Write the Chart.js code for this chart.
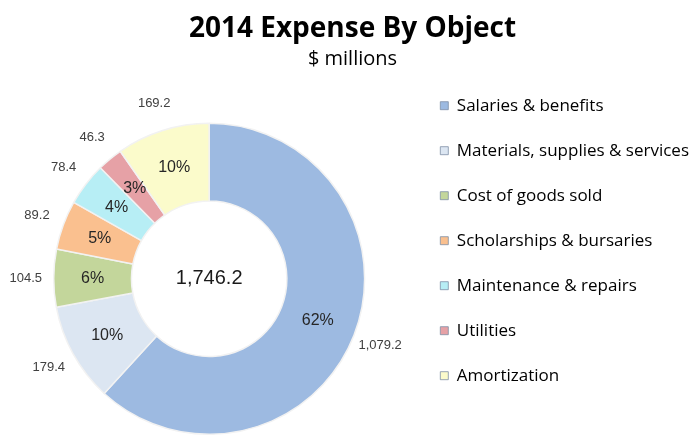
<!DOCTYPE html>
<html>
<head>
<meta charset="utf-8">
<script src="https://cdn.jsdelivr.net/npm/chart.js@4"></script>
<style>
  html, body { margin: 0; padding: 0; background: #ffffff; }
  #wrap { width: 692px; height: 437px; position: relative; }
</style>
</head>
<body>
<div id="wrap"><canvas id="c" width="692" height="437"></canvas></div>
<script>
const categories = [
  'Salaries & benefits',
  'Materials, supplies & services',
  'Cost of goods sold',
  'Scholarships & bursaries',
  'Maintenance & repairs',
  'Utilities',
  'Amortization'
];
const expenseValues = [1079.2, 179.4, 104.5, 89.2, 78.4, 46.3, 169.2];
const sliceColors = ['#9DBAE1', '#DCE6F2', '#C3D69B', '#FAC08F', '#B7EEF5', '#E6A1A6', '#FBFBCB'];
const titleText = '2014 Expense By Object';
const subtitleText = '$ millions';

const total = expenseValues.reduce((a, b) => a + b, 0);
const fmt = (v) => v.toLocaleString('en-US', { minimumFractionDigits: 1, maximumFractionDigits: 1 });

// spacer box: pushes the doughnut area down without moving the legend
const spacerPlugin = {
  id: 'spacer',
  beforeInit(chart) {
    const box = {
      position: 'top', weight: -10, fullSize: false,
      options: {},
      width: 0, height: 0,
      isHorizontal() { return true; },
      update(maxW) { this.width = maxW; this.height = 51; },
      draw() {}
    };
    Chart.layouts.addBox(chart, box);
  }
};

const labelPlugin = {
  id: 'sliceLabels',
  afterDatasetsDraw(chart) {
    const ctx = chart.ctx;
    const meta = chart.getDatasetMeta(0);
    ctx.save();
    ctx.textAlign = 'center';
    ctx.textBaseline = 'middle';
    meta.data.forEach((arc, i) => {
      const p = arc.getProps(['x', 'y', 'startAngle', 'endAngle', 'innerRadius', 'outerRadius'], true);
      const mid = (p.startAngle + p.endAngle) / 2;
      const rm = (p.innerRadius + p.outerRadius) / 2;
      ctx.fillStyle = '#262626';
      ctx.font = '16px "Liberation Sans", Arial, sans-serif';
      const pct = Math.round(expenseValues[i] / total * 100) + '%';
      ctx.fillText(pct, p.x + Math.cos(mid) * rm, p.y + Math.sin(mid) * rm);
      const ro = p.outerRadius + 28;
      ctx.fillStyle = '#404040';
      ctx.font = '13px "Liberation Sans", Arial, sans-serif';
      ctx.fillText(fmt(expenseValues[i]), p.x + Math.cos(mid) * ro, p.y + Math.sin(mid) * ro);
    });
    const a0 = meta.data[0];
    ctx.fillStyle = '#1a1a1a';
    ctx.font = '20px "Liberation Sans", Arial, sans-serif';
    ctx.fillText(fmt(total), a0.x, a0.y);
    ctx.restore();
  }
};

new Chart(document.getElementById('c'), {
  type: 'doughnut',
  data: {
    labels: categories,
    datasets: [{
      data: expenseValues,
      backgroundColor: sliceColors,
      borderColor: '#f2f2f2',
      borderWidth: 1.5,
      hoverOffset: 0
    }]
  },
  options: {
    responsive: false,
    animation: false,
    cutout: '50%',
    layout: { padding: { left: 6, bottom: 2, right: -7, top: 0 } },
    plugins: {
      title: {
        display: true,
        text: titleText,
        color: '#000000',
        font: { family: 'Open Sans', size: 28, weight: 'bold' },
        padding: { top: 12, bottom: 0 }
      },
      subtitle: {
        display: true,
        text: subtitleText,
        color: '#000000',
        font: { family: 'Open Sans', size: 20 },
        padding: { top: 2, bottom: 0 }
      },
      legend: {
        position: 'right',
        align: 'center',
        title: { display: true, text: '', font: { size: 12 }, padding: { top: 16, bottom: 16 } },
        labels: {
          color: '#000000',
          font: { family: 'Open Sans', size: 17 },
          boxWidth: 8,
          boxHeight: 8,
          padding: 28,
          generateLabels(chart) {
            const items = Chart.overrides.doughnut.plugins.legend.labels.generateLabels(chart);
            items.forEach((it) => { it.strokeStyle = '#7f8fa6'; it.lineWidth = 0.8; });
            return items;
          }
        }
      },
      tooltip: { enabled: false }
    }
  },
  plugins: [spacerPlugin, labelPlugin]
});
</script>
</body>
</html>
